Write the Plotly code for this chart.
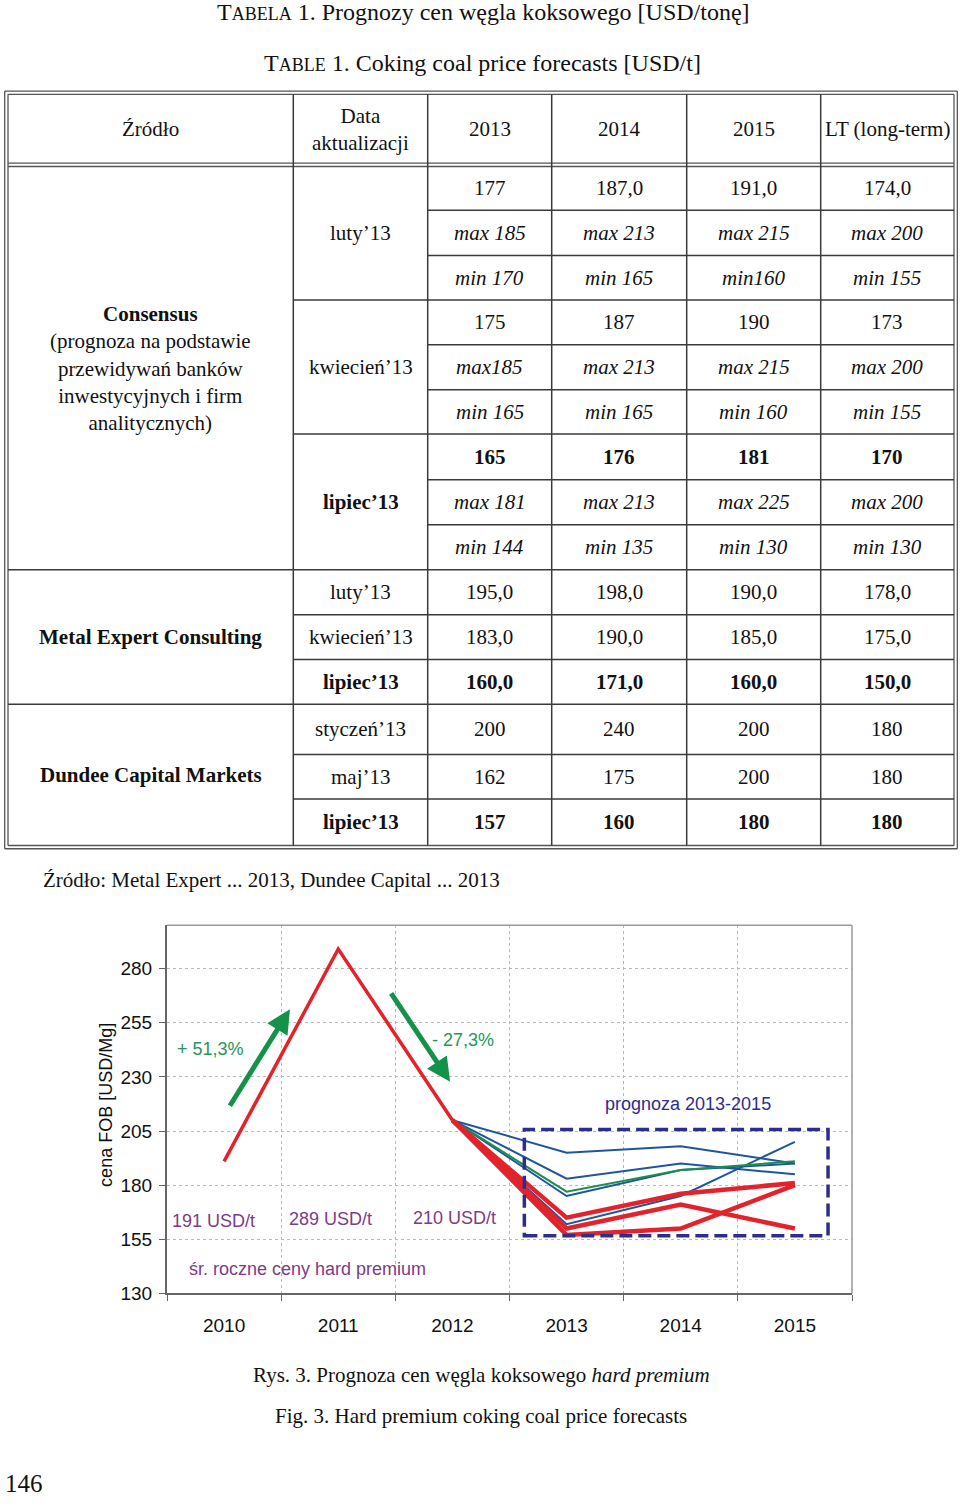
import plotly.graph_objects as go

W, H = 960, 1507

# ---- table data -------------------------------------------------------------
HEADER = ["Źródło", "Data<br>aktualizacji", "2013", "2014", "2015", "LT (long-term)"]

CONS_LUTY = ["177", "187,0", "191,0", "174,0"]
CONS_LUTY_MAX = ["max 185", "max 213", "max 215", "max 200"]
CONS_LUTY_MIN = ["min 170", "min 165", "min160", "min 155"]
CONS_KWI = ["175", "187", "190", "173"]
CONS_KWI_MAX = ["max185", "max 213", "max 215", "max 200"]
CONS_KWI_MIN = ["min 165", "min 165", "min 160", "min 155"]
CONS_LIP = ["165", "176", "181", "170"]
CONS_LIP_MAX = ["max 181", "max 213", "max 225", "max 200"]
CONS_LIP_MIN = ["min 144", "min 135", "min 130", "min 130"]
MEC_LUTY = ["195,0", "198,0", "190,0", "178,0"]
MEC_KWI = ["183,0", "190,0", "185,0", "175,0"]
MEC_LIP = ["160,0", "171,0", "160,0", "150,0"]
DCM_STY = ["200", "240", "200", "180"]
DCM_MAJ = ["162", "175", "200", "180"]
DCM_LIP = ["157", "160", "180", "180"]

SOURCES = [
    "<b>Consensus</b><br>(prognoza na podstawie<br>przewidywań banków<br>inwestycyjnych i firm<br>analitycznych)",
    "<b>Metal Expert Consulting</b>",
    "<b>Dundee Capital Markets</b>",
]

# ---- chart data -------------------------------------------------------------
YEARS = ["2010", "2011", "2012", "2013", "2014", "2015"]
HIST_YEARS = ["2010", "2011", "2012"]
HIST_PRICE = [191, 289, 210]

FC_YEARS = ["2012", "2013", "2014", "2015"]
START = 210
FC_CONS_LUTY = [177, 187, 191]
FC_CONS_KWI = [175, 187, 190]
FC_CONS_LIP = [165, 176, 181]
FC_MEC_LUTY = [195, 198, 190]
FC_MEC_KWI = [183, 190, 185]
FC_MEC_LIP = [160, 171, 160]
FC_DCM_MAJ = [162, 175, 200]
FC_DCM_LIP = [157, 160, 180]

Y_TICKS = [130, 155, 180, 205, 230, 255, 280]

RED = "#e3232b"
BLUE = "#1d559e"
GREEN = "#1b8f4d"
ARROW_GREEN = "#15924a"
PCT_GREEN = "#24955c"
NAVY = "#2d2d8c"
PURPLE = "#7e3b88"

SERIF = "Liberation Serif, Times New Roman, serif"
SANS = "Liberation Sans, Arial, sans-serif"


def px(x):
    return x / W


def py(y):
    return 1 - y / H


fig = go.Figure()

# ---- chart traces -----------------------------------------------------------
for vals in [FC_MEC_LUTY, FC_MEC_KWI, FC_CONS_KWI, FC_DCM_MAJ]:
    fig.add_trace(go.Scatter(x=FC_YEARS, y=[START] + vals, mode="lines",
                             line={"color": BLUE, "width": 2}, showlegend=False))
fig.add_trace(go.Scatter(x=FC_YEARS, y=[START] + FC_CONS_LUTY, mode="lines",
                         line={"color": GREEN, "width": 2}, showlegend=False))
for vals in [FC_CONS_LIP, FC_MEC_LIP, FC_DCM_LIP]:
    fig.add_trace(go.Scatter(x=FC_YEARS, y=[START] + vals, mode="lines",
                             line={"color": RED, "width": 4.5}, showlegend=False))
fig.add_trace(go.Scatter(x=HIST_YEARS, y=HIST_PRICE, mode="lines",
                         line={"color": RED, "width": 3.5}, showlegend=False))

fig.update_xaxes(
    type="category",
    categoryorder="array",
    categoryarray=YEARS,
    range=[-0.5, 5.5],
    domain=[px(167), px(852)],
    tickson="boundaries",
    ticks="outside",
    ticklen=6,
    tickcolor="#666",
    showgrid=True,
    gridcolor="#b8b8b8",
    griddash="dot",
    showline=True,
    linecolor="#666",
    linewidth=2,
    tickfont={"family": SANS, "size": 19, "color": "#111"},
    ticklabelstandoff=14,
    zeroline=False,
)
fig.update_yaxes(
    range=[130, 300],
    domain=[py(1303), py(932)],
    tickvals=Y_TICKS,
    ticks="outside",
    ticklen=6,
    tickcolor="#666",
    showgrid=True,
    gridcolor="#b8b8b8",
    griddash="dot",
    showline=True,
    linecolor="#666",
    linewidth=2,
    tickfont={"family": SANS, "size": 19, "color": "#111"},
    ticklabelstandoff=3,
    zeroline=False,
)

shapes = []
# top / right frame of plot area
shapes.append(dict(type="line", xref="paper", yref="paper", x0=px(167), x1=px(852),
                   y0=py(932), y1=py(932), line={"color": "#999", "width": 1.5}))
shapes.append(dict(type="line", xref="paper", yref="paper", x0=px(852), x1=px(852),
                   y0=py(932), y1=py(1303), line={"color": "#999", "width": 1.5}))
# forecast box
shapes.append(dict(type="rect", xref="x", yref="y", x0=2.63, x1=5.29, y0=156.6, y1=205.7,
                   line={"color": NAVY, "width": 3.5, "dash": "13px,6px"}))

annotations = []


def chart_text(x, y, text, color, size=18):
    annotations.append(dict(xref="x", yref="y", x=x, y=y, text=text, showarrow=False,
                            xanchor="center", yanchor="middle",
                            font={"family": SANS, "size": size, "color": color}))


chart_text(-0.12, 242.8, "+ 51,3%", PCT_GREEN)
chart_text(2.09, 247.0, "- 27,3%", PCT_GREEN)
chart_text(4.06, 217.6, "prognoza 2013-2015", NAVY)
chart_text(-0.09, 163.5, "191 USD/t", PURPLE)
chart_text(0.93, 164.4, "289 USD/t", PURPLE)
chart_text(2.02, 164.9, "210 USD/t", PURPLE)
chart_text(0.73, 141.5, "śr. roczne ceny hard premium", PURPLE)

for hx, hy, ax, ay in [(0.577, 261.2, -61, 98), (1.98, 227.7, -60, -90)]:
    annotations.append(dict(xref="x", yref="y", x=hx, y=hy, ax=ax, ay=ay, text="",
                            showarrow=True, arrowhead=2, arrowsize=0.95, arrowwidth=5,
                            arrowcolor=ARROW_GREEN, standoff=0))

annotations.append(dict(xref="paper", yref="paper", x=px(106), y=py(1113),
                        xanchor="center", yanchor="middle",
                        text="cena FOB [USD/Mg]", textangle=-90, showarrow=False,
                        font={"family": SANS, "size": 18, "color": "#111"}))

# ---- table ------------------------------------------------------------------
LINE = "#3a3a3a"


def hline(x0, x1, y, width=1.5, color=LINE):
    shapes.append(dict(type="line", xref="paper", yref="paper", x0=px(x0), x1=px(x1),
                       y0=py(y), y1=py(y), line={"color": color, "width": width}))


def vline(x, y0, y1, width=1.5, color=LINE):
    shapes.append(dict(type="line", xref="paper", yref="paper", x0=px(x), x1=px(x),
                       y0=py(y0), y1=py(y1), line={"color": color, "width": width}))


# double outer border
for (l, t, r, b) in [(4.7, 91.7, 957.3, 855.0), (8.0, 95.0, 954.0, 851.7)]:
    hline(l, r, t, 1.3, "#555")
    hline(l, r, b, 1.3, "#555")
    vline(l, t, b, 1.3, "#555")
    vline(r, t, b, 1.3, "#555")
# double line under the header
hline(8, 954, 164.3, 1.3, "#555")
hline(8, 954, 167.7, 1.3, "#555")

COL_X = [8, 293.3, 427.7, 551.7, 686.7, 820.7, 954]
ROW_Y = [167.7, 211.7, 257.3, 302.3, 347.3, 392.7, 437.3, 483.3, 528.5,
         574.0, 619.3, 664.3, 709.5, 760.0, 805.0, 851.7]

for x in COL_X[1:-1]:
    vline(x, 95, 851.7)

for i, y in enumerate(ROW_Y[1:-1], start=1):
    if i in (9, 12):
        x0 = COL_X[0]
    elif i in (3, 6, 10, 11, 13, 14):
        x0 = COL_X[1]
    else:
        x0 = COL_X[2]
    hline(x0, 954, y)

centers_x = [(COL_X[i] + COL_X[i + 1]) / 2 for i in range(6)]
centers_y = [(ROW_Y[i] + ROW_Y[i + 1]) / 2 for i in range(15)]


def cell(x, y, text, size=21):
    annotations.append(dict(xref="paper", yref="paper", x=px(x), y=py(y), text=text,
                            showarrow=False, xanchor="center", yanchor="middle",
                            font={"family": SERIF, "size": size, "color": "#111"}))


for i, h in enumerate(HEADER):
    cell(centers_x[i], 130, h)

value_rows = [
    (CONS_LUTY, ""), (CONS_LUTY_MAX, "i"), (CONS_LUTY_MIN, "i"),
    (CONS_KWI, ""), (CONS_KWI_MAX, "i"), (CONS_KWI_MIN, "i"),
    (CONS_LIP, "b"), (CONS_LIP_MAX, "i"), (CONS_LIP_MIN, "i"),
    (MEC_LUTY, ""), (MEC_KWI, ""), (MEC_LIP, "b"),
    (DCM_STY, ""), (DCM_MAJ, ""), (DCM_LIP, "b"),
]
for r, (vals, style) in enumerate(value_rows):
    for c, v in enumerate(vals):
        txt = f"<{style}>{v}</{style}>" if style else v
        cell(centers_x[c + 2], centers_y[r], txt)

DATES = [
    ("luty’13", 0, 3), ("kwiecień’13", 3, 6), ("<b>lipiec’13</b>", 6, 9),
    ("luty’13", 9, 10), ("kwiecień’13", 10, 11), ("<b>lipiec’13</b>", 11, 12),
    ("styczeń’13", 12, 13), ("maj’13", 13, 14), ("<b>lipiec’13</b>", 14, 15),
]
for txt, r0, r1 in DATES:
    cell(centers_x[1], (ROW_Y[r0] + ROW_Y[r1]) / 2, txt)

for txt, r0, r1 in [(SOURCES[0], 0, 9), (SOURCES[1], 9, 12), (SOURCES[2], 12, 15)]:
    cell(centers_x[0], (ROW_Y[r0] + ROW_Y[r1]) / 2, txt)

# titles, source note, captions
cell(483, 12, "T<span style='font-size:18px'>ABELA</span> 1. Prognozy cen węgla koksowego [USD/tonę]", 24)
cell(482, 63, "T<span style='font-size:18px'>ABLE</span> 1. Coking coal price forecasts [USD/t]", 24)
annotations.append(dict(xref="paper", yref="paper", x=px(41), y=py(886),
                        xanchor="left", yanchor="middle",
                        text="Źródło: Metal Expert ... 2013, Dundee Capital ... 2013",
                        showarrow=False, font={"family": SERIF, "size": 21, "color": "#111"}))
cell(481, 1385, "Rys. 3. Prognoza cen węgla koksowego <i>hard premium</i>", 21)
cell(481, 1426, "Fig. 3. Hard premium coking coal price forecasts", 21)
annotations.append(dict(xref="paper", yref="paper", x=px(3), y=py(1494),
                        xanchor="left", yanchor="middle",
                        text="146", showarrow=False,
                        font={"family": SERIF, "size": 25, "color": "#111"}))

# no fixed width/height: the figure takes the size of the browser window
fig.update_layout(
    autosize=True,
    margin={"l": 0, "r": 0, "t": 0, "b": 0},
    paper_bgcolor="white",
    plot_bgcolor="white",
    shapes=shapes,
    annotations=annotations,
    showlegend=False,
)

# pin the graph to the top-left corner of the page so it fills the window exactly
PIN = (
    "document.documentElement.style.overflow='hidden';"
    "document.body.style.margin='0px';"
    "document.body.style.overflow='hidden';"
    "var gd=document.getElementById('{plot_id}');"
    "gd.style.position='fixed';gd.style.top='0px';gd.style.left='0px';"
)

fig.write_html(
    "out.html",
    config={"displayModeBar": False},
    post_script=PIN,
    default_width="100vw",
    default_height="100vh",
)
